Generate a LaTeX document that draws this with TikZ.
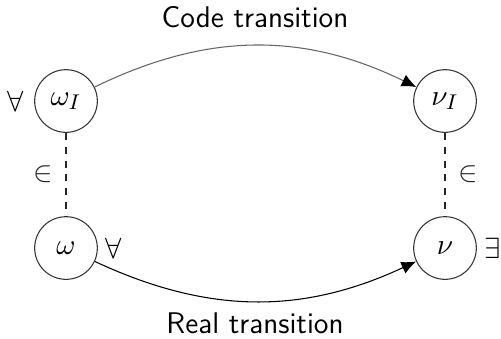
\documentclass[tikz,border=0pt]{standalone}
\usepackage{amsmath}
\usepackage{amssymb}
\usepackage{tikz}
\usetikzlibrary{arrows.meta}
\tikzset{
  state/.style={draw=black!80, circle, thin, minimum size=23.5pt, inner sep=0pt},
  trans/.style={-{Latex[length=5.5pt,width=4.8pt,black]}, thin},
  member/.style={dash pattern=on 2.6pt off 2.6pt, thin, black!85}
}

\begin{document}
\begin{tikzpicture}[x=0.375pt,y=-0.375pt,font=\fontsize{11.2}{13}\selectfont]
      \useasboundingbox (0,0) rectangle (501,338);
      \node[state] (wi) at (66,101) {$\omega_I$};
      \node[state] (ni) at (445,101) {$\nu_I$};
      \node[state] (w) at (66,248) {$\omega$};
      \node[state] (n) at (445,248) {$\nu$};
      \draw[trans,black!60] (wi) to[bend left=26] (ni);
      \draw[trans] (w) to[bend right=25] (n);
      \draw[member] (wi) -- (w) node [midway,left,xshift=-.05cm] {$\in$};
      \draw[member] (ni) -- (n) node [midway,right,xshift=.05cm] {$\in$};
      \node (fa1) at (16,101) {$\forall$};
      \node (fa2) at (114,248) {$\forall$};
      \node (ex) at (493,248) {$\exists$};
      \node (code) at (255,17) {\sffamily Code transition};
      \node (real) at (255,323) {\sffamily Real transition};
    \end{tikzpicture}
\end{document}
